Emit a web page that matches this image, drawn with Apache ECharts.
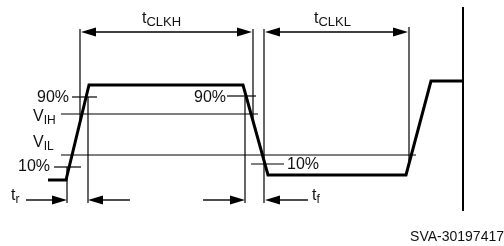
<!DOCTYPE html>
<html>
<head>
<meta charset="utf-8">
<script src="https://cdn.jsdelivr.net/npm/echarts@6/dist/echarts.min.js"></script>
<style>
  html, body { margin: 0; padding: 0; background: #fff; }
  #chart { width: 504px; height: 246px; }
</style>
</head>
<body>
<div id="chart"></div>
<script>
// clock waveform, [time, level] in drawing units (level axis grows downward)
const waveform = [[48, 180], [66, 180], [89, 85], [243, 85], [268, 175], [406, 175], [431, 81], [462, 81]];

// thin reference lines [x1, y1, x2, y2]
const guideLines = [
  [80, 29, 80, 120],     // tCLKH start
  [253, 29, 253, 120],   // tCLKH end
  [264, 29, 264, 203],   // tCLKL start / tf end
  [409, 27, 409, 162],   // tCLKL end
  [67, 167, 67, 203],    // tr start (10%)
  [88, 97, 88, 203],     // tr end (90%)
  [245, 97, 245, 203],   // tf start (90%)
  [61, 114, 258, 114],   // VIH
  [61, 155, 416, 155],   // VIL
  [72, 97, 97, 97],      // 90% left
  [227, 96, 256, 96],    // 90% right
  [54, 167, 81, 167],    // 10% left
  [251, 164, 284, 164]   // 10% right
];

// period boundary
const boundary = [[463, 7], [463, 211]];

// arrows [tailX, tailY, tipX, tipY, both ends?]
const arrows = [
  [166, 32, 81, 32, 0], [166, 32, 252, 32, 0],   // tCLKH
  [336, 32, 265, 32, 0], [336, 32, 408, 32, 0],  // tCLKL
  [26, 200, 67, 200, 0],                         // tr
  [130, 200, 88, 200, 0],
  [203, 200, 245, 200, 0],                       // tf
  [308, 200, 265, 200, 0]
];

// labels [x, y, main, subscript, align]
const labels = [
  [142, 19, 't', 'CLKH', 'left'],
  [314, 19, 't', 'CLKL', 'left'],
  [69, 98, '90%', '', 'right'],
  [33, 117, 'V', 'IH', 'left'],
  [33, 143, 'V', 'IL', 'left'],
  [50, 167, '10%', '', 'right'],
  [194, 98, '90%', '', 'left'],
  [287, 165, '10%', '', 'left'],
  [11, 196, 't', 'r', 'left'],
  [312, 196, 't', 'f', 'left']
];
const figureId = 'SVA-30197417';

const FONT = '"Liberation Sans", Arial, sans-serif';
const chart = echarts.init(document.getElementById('chart'));

function renderSegment(params, api) {
  const a = api.coord([api.value(0), api.value(1)]);
  const b = api.coord([api.value(2), api.value(3)]);
  return {
    type: 'line',
    shape: { x1: a[0], y1: a[1], x2: b[0], y2: b[1] },
    style: { stroke: '#000', lineWidth: 1.2 }
  };
}

function renderArrow(params, api) {
  const a = api.coord([api.value(0), api.value(1)]);
  const b = api.coord([api.value(2), api.value(3)]);
  const dx = b[0] - a[0], dy = b[1] - a[1];
  const len = Math.sqrt(dx * dx + dy * dy);
  const ux = dx / len, uy = dy / len;
  const L = 15, W = 4.5;
  const bx = b[0] - ux * L, by = b[1] - uy * L;
  return {
    type: 'group',
    children: [
      { type: 'line', shape: { x1: a[0], y1: a[1], x2: bx, y2: by }, style: { stroke: '#000', lineWidth: 1.4 } },
      {
        type: 'polygon',
        shape: { points: [[b[0], b[1]], [bx - uy * W, by + ux * W], [bx + uy * W, by - ux * W]] },
        style: { fill: '#000' }
      }
    ]
  };
}

function renderLabel(params, api) {
  const item = labels[params.dataIndex];
  const p = api.coord([item[0], item[1]]);
  const big = item[3].length > 2 ? 13 : 12;
  const text = item[3] ? '{m|' + item[2] + '}{s|' + item[3] + '}' : '{m|' + item[2] + '}';
  return {
    type: 'text',
    style: {
      x: p[0], y: p[1], text: text, align: item[4], verticalAlign: 'middle', fill: '#111',
      rich: {
        m: { fontSize: 16, lineHeight: 19, fontFamily: FONT, fill: '#111' },
        s: { fontSize: big, lineHeight: big, fontFamily: FONT, verticalAlign: 'bottom', fill: '#111' }
      }
    }
  };
}

chart.setOption({
  animation: false,
  grid: { left: 0, right: 0, top: 0, bottom: 0 },
  xAxis: { type: 'value', min: 0, max: 504, show: false },
  yAxis: { type: 'value', min: 0, max: 246, inverse: true, show: false },
  graphic: [{
    type: 'text', right: 0, top: 230,
    style: { text: figureId, font: '14px ' + FONT, fill: '#111' }
  }],
  series: [
    {
      type: 'custom', renderItem: renderSegment, data: guideLines,
      encode: { x: [0, 2], y: [1, 3] }, silent: true
    },
    {
      type: 'custom', renderItem: renderArrow, data: arrows,
      encode: { x: [0, 2], y: [1, 3] }, silent: true
    },
    {
      type: 'custom', renderItem: renderLabel, data: labels.map(l => [l[0], l[1]]),
      encode: { x: 0, y: 1 }, silent: true
    },
    {
      type: 'line', data: boundary, symbol: 'none', silent: true,
      lineStyle: { color: '#000', width: 2 }
    },
    {
      type: 'line', data: waveform, symbol: 'none', silent: true,
      lineStyle: { color: '#000', width: 3, join: 'miter' }
    }
  ]
});
</script>
</body>
</html>
